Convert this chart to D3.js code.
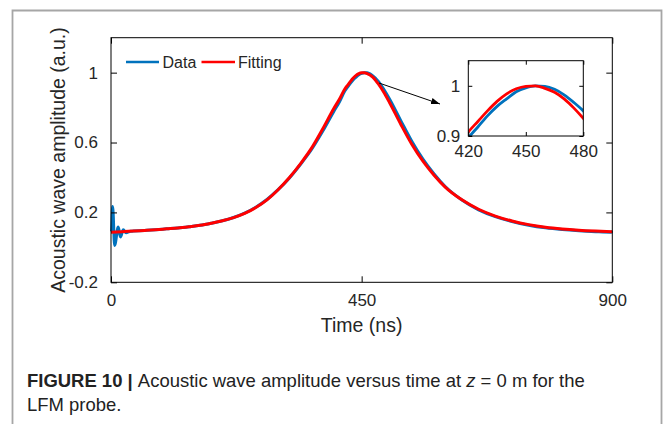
<!DOCTYPE html>
<html>
<head>
<meta charset="utf-8">
<script src="https://cdn.jsdelivr.net/npm/d3@7"></script>
<style>
  html, body { margin: 0; padding: 0; background: #fff; }
  svg { display: block; font-family: "Liberation Sans", Arial, Helvetica, sans-serif; }
</style>
</head>
<body>
<svg id="chart" width="663" height="424"></svg>
<script>
// ---------------- data ----------------
const fitTime = [0, 20, 40, 60, 80, 100, 120, 140, 160, 180, 200, 220, 240, 260, 280, 300, 320, 340, 360, 380, 400, 410,
  420, 425, 430, 435, 440, 445, 450, 455, 460, 465, 470, 475, 480, 490, 500, 520, 540, 560, 580, 600, 630, 660, 690, 720, 750, 780, 810, 840, 870, 900];
const fitValue = [0.087, 0.090, 0.093, 0.097, 0.101, 0.106, 0.111, 0.118, 0.126, 0.138, 0.152, 0.170, 0.194, 0.228, 0.272, 0.330, 0.398, 0.478, 0.568, 0.678, 0.795, 0.848,
  0.908, 0.929, 0.950, 0.969, 0.984, 0.994, 0.999, 1.000, 0.995, 0.987, 0.974, 0.956, 0.935, 0.886, 0.829, 0.706, 0.590, 0.493, 0.413, 0.345, 0.272, 0.218, 0.179, 0.151, 0.130, 0.115, 0.105, 0.098, 0.093, 0.089];

const dataTime = [0, 1, 3, 6.5, 13, 17, 22, 27, 35, 40, 60, 80, 100, 120, 140, 160, 180, 200, 220, 240, 260, 280, 300, 320, 340, 360, 380, 400, 410,
  420, 425, 430, 435, 440, 445, 450, 455, 460, 465, 470, 475, 480, 490, 500, 520, 540, 560, 580, 600, 630, 660, 690, 720, 750, 780, 810, 840, 870, 898, 900];
const dataValue = [0.090, 0.097, 0.234, 0.011, 0.116, 0.059, 0.101, 0.084, 0.092, 0.093, 0.097, 0.101, 0.106, 0.111, 0.118, 0.126, 0.138, 0.152, 0.171, 0.196, 0.230, 0.274, 0.330, 0.396, 0.474, 0.560, 0.664, 0.778, 0.832,
  0.896, 0.918, 0.940, 0.959, 0.974, 0.988, 0.996, 1.000, 0.999, 0.993, 0.982, 0.967, 0.950, 0.903, 0.849, 0.727, 0.607, 0.505, 0.420, 0.348, 0.271, 0.215, 0.176, 0.148, 0.127, 0.112, 0.102, 0.095, 0.090, 0.087, 0.094];

const seriesNames = ["Data", "Fitting"];
const seriesColors = ["#0072BD", "#FF0000"];

const xTicks = [0, 450, 900];
const yTicks = [-0.2, 0.2, 0.6, 1];
const insetXTicks = [420, 450, 480];
const insetYTicks = [0.9, 1];

const xLabel = "Time (ns)";
const yLabel = "Acoustic wave amplitude (a.u.)";
const captionBold = "FIGURE 10 | ";
const captionLine1 = "Acoustic wave amplitude versus time at ";
const captionLine2 = "LFM probe.";

// ---------------- drawing ----------------
const svg = d3.select("#chart");
const textColor = "#262626";

// outer frame
svg.append("path")
  .attr("d", "M12.5,440 L12.5,10.5 L661.5,10.5 L661.5,440")
  .attr("fill", "none").attr("stroke", "#a6a6a6").attr("stroke-width", 1.8);

const x = d3.scaleLinear().domain([0, 900]).range([111, 612.3]);
const y = d3.scaleLinear().domain([-0.2, 1.2]).range([282.3, 37.7]);

const fitPts = fitTime.map((t, i) => [t, fitValue[i]]);
const dataPts = dataTime.map((t, i) => [t, dataValue[i]]);

svg.append("defs").append("clipPath").attr("id", "mainClip")
  .append("rect").attr("x", 110).attr("y", 37.7).attr("width", 503).attr("height", 244.6);

const line = d3.line().x(d => x(d[0])).y(d => y(d[1])).curve(d3.curveMonotoneX);

const plot = svg.append("g").attr("clip-path", "url(#mainClip)");
plot.append("path").datum(dataPts).attr("d", line)
  .attr("fill", "none").attr("stroke", seriesColors[0]).attr("stroke-width", 3).attr("stroke-linejoin", "round");
plot.append("path").datum(fitPts).attr("d", line)
  .attr("fill", "none").attr("stroke", seriesColors[1]).attr("stroke-width", 3).attr("stroke-linejoin", "round");

// axes (ticks inward on all four sides)
function styleAxis(g) {
  g.select(".domain").remove();
  g.selectAll(".tick line").attr("stroke", "#000").attr("stroke-width", 1);
  g.selectAll(".tick text").attr("fill", textColor).style("font-size", "17px");
}
const fmt = d => (d === 1 ? "1" : d3.format("")(+d.toFixed(1)).replace("-", "-"));

svg.append("g").attr("transform", `translate(0,${y(-0.2)})`)
  .call(d3.axisBottom(x).tickValues(xTicks).tickSizeInner(-6).tickSizeOuter(0).tickPadding(12).tickFormat(d3.format("d")))
  .call(styleAxis);
svg.append("g").attr("transform", `translate(0,${y(1.2)})`)
  .call(d3.axisTop(x).tickValues(xTicks).tickSizeInner(-6).tickSizeOuter(0).tickFormat(""))
  .call(styleAxis);
svg.append("g").attr("transform", `translate(${x(0)},0)`)
  .call(d3.axisLeft(y).tickValues(yTicks).tickSizeInner(-6).tickSizeOuter(0).tickPadding(13).tickFormat(d => String(d)))
  .call(styleAxis);
svg.append("g").attr("transform", `translate(${x(900)},0)`)
  .call(d3.axisRight(y).tickValues(yTicks).tickSizeInner(-6).tickSizeOuter(0).tickFormat(""))
  .call(styleAxis);

svg.append("rect").attr("x", x(0)).attr("y", y(1.2)).attr("width", x(900) - x(0)).attr("height", y(-0.2) - y(1.2))
  .attr("fill", "none").attr("stroke", "#000").attr("stroke-width", 1);

// axis labels
svg.append("text").attr("x", (x(0) + x(900)) / 2).attr("y", 332)
  .attr("text-anchor", "middle").attr("fill", textColor).style("font-size", "19.5px").text(xLabel);
svg.append("text").attr("transform", `translate(65,${(y(-0.2) + y(1.2)) / 2}) rotate(-90)`)
  .attr("text-anchor", "middle").attr("fill", textColor).style("font-size", "19.5px").text(yLabel);

// legend
const legend = svg.append("g");
const legItems = [{ x1: 126, x2: 159, tx: 162.5 }, { x1: 201.5, x2: 235, tx: 238 }];
legItems.forEach((it, i) => {
  legend.append("line").attr("x1", it.x1).attr("x2", it.x2).attr("y1", 62).attr("y2", 62)
    .attr("stroke", seriesColors[i]).attr("stroke-width", 2.5);
  legend.append("text").attr("x", it.tx).attr("y", 67.5).attr("fill", textColor)
    .style("font-size", "16px").text(seriesNames[i]);
});

// arrow
const defs = svg.select("defs");
defs.append("marker").attr("id", "arrowHead").attr("viewBox", "0 0 10 10")
  .attr("refX", 10).attr("refY", 5).attr("markerWidth", 9).attr("markerHeight", 9)
  .attr("markerUnits", "userSpaceOnUse").attr("orient", "auto")
  .append("path").attr("d", "M0,1.5 L10,5 L0,8.5 Z").attr("fill", "#000");
svg.append("line").attr("x1", 379).attr("y1", 83).attr("x2", 440).attr("y2", 104)
  .attr("stroke", "#000").attr("stroke-width", 1).attr("marker-end", "url(#arrowHead)");

// inset
const ix = d3.scaleLinear().domain([420, 480]).range([468.3, 583.3]);
const iy = d3.scaleLinear().domain([0.9, 1.05]).range([136, 60.7]);
defs.append("clipPath").attr("id", "insetClip")
  .append("rect").attr("x", 468.3).attr("y", 60.7).attr("width", 115).attr("height", 75.3);
svg.append("rect").attr("x", 468.3).attr("y", 60.7).attr("width", 115).attr("height", 75.3).attr("fill", "#fff");
const iline = d3.line().x(d => ix(d[0])).y(d => iy(d[1])).curve(d3.curveMonotoneX);
const ig = svg.append("g").attr("clip-path", "url(#insetClip)");
ig.append("path").datum(dataPts.filter(d => d[0] >= 400 && d[0] <= 500)).attr("d", iline)
  .attr("fill", "none").attr("stroke", seriesColors[0]).attr("stroke-width", 2.8);
ig.append("path").datum(fitPts.filter(d => d[0] >= 400 && d[0] <= 500)).attr("d", iline)
  .attr("fill", "none").attr("stroke", seriesColors[1]).attr("stroke-width", 2.8);

svg.append("g").attr("transform", `translate(0,136)`)
  .call(d3.axisBottom(ix).tickValues(insetXTicks).tickSizeInner(-4).tickSizeOuter(0).tickPadding(9).tickFormat(d3.format("d")))
  .call(styleAxis);
svg.append("g").attr("transform", `translate(0,60.7)`)
  .call(d3.axisTop(ix).tickValues(insetXTicks).tickSizeInner(-4).tickSizeOuter(0).tickFormat(""))
  .call(styleAxis);
svg.append("g").attr("transform", `translate(468.3,0)`)
  .call(d3.axisLeft(iy).tickValues(insetYTicks).tickSizeInner(-4).tickSizeOuter(0).tickPadding(8).tickFormat(d => String(d)))
  .call(styleAxis);
svg.append("g").attr("transform", `translate(583.3,0)`)
  .call(d3.axisRight(iy).tickValues(insetYTicks).tickSizeInner(-4).tickSizeOuter(0).tickFormat(""))
  .call(styleAxis);
svg.append("rect").attr("x", 468.3).attr("y", 60.7).attr("width", 115).attr("height", 75.3)
  .attr("fill", "none").attr("stroke", "#000").attr("stroke-width", 1);

// caption
const cap1 = svg.append("text").attr("x", 27).attr("y", 387).attr("fill", "#222").style("font-size", "17.5px");
cap1.append("tspan").attr("font-weight", "bold").text(captionBold);
cap1.append("tspan").text(captionLine1);
cap1.append("tspan").attr("font-style", "italic").text("z");
cap1.append("tspan").text(" = 0 m for the");
const cap2 = svg.append("text").attr("x", 27).attr("y", 411).attr("fill", "#222").style("font-size", "17.5px").text(captionLine2);
// squeeze caption to the narrower typeface width of the reference
const w1 = cap1.node().getComputedTextLength();
const sx = 558 / w1;
cap1.attr("transform", `translate(27,0) scale(${sx},1) translate(-27,0)`);
cap2.attr("transform", `translate(27,0) scale(${sx},1) translate(-27,0)`);
</script>
</body>
</html>
